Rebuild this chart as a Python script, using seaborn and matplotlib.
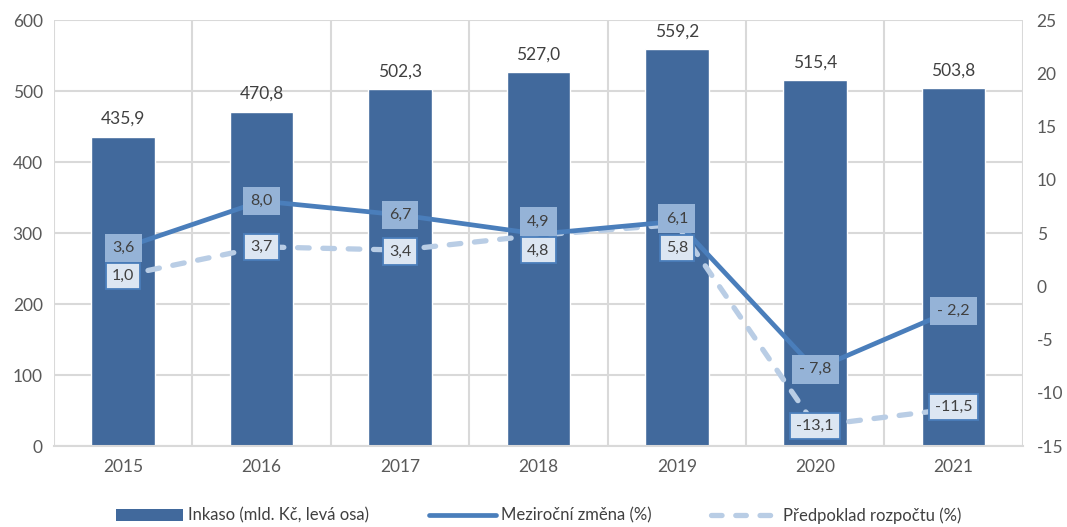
import numpy as np
import pandas as pd
import matplotlib
matplotlib.use("Agg")
import matplotlib.pyplot as plt
import seaborn as sns
from matplotlib.lines import Line2D
from matplotlib.patches import Patch

YEARS = ['2015', '2016', '2017', '2018', '2019', '2020', '2021']
INKASO = [435.9, 470.8, 502.3, 527.0, 559.2, 515.4, 503.8]
ZMENA = [3.6, 8.0, 6.7, 4.9, 6.1, -7.8, -2.2]
PREDPOKLAD = [1.0, 3.7, 3.4, 4.8, 5.8, -13.1, -11.5]

ZMENA_TXT = ['3,6', '8,0', '6,7', '4,9', '6,1', '- 7,8', '- 2,2']
PREDPOKLAD_TXT = ['1,0', '3,7', '3,4', '4,8', '5,8', '-13,1', '-11,5']

BAR_COLOR = '#41699C'
LINE_COLOR = '#4A7EBB'
DASH_COLOR = '#B9CDE5'
TXT = '#404040'
TICK = '#595959'
GRID = '#D9D9D9'

sns.set_style('white')
plt.rcParams['font.family'] = ['Lato', 'DejaVu Sans']
plt.rcParams['axes.unicode_minus'] = False

fig = plt.figure(figsize=(10.67, 5.27), dpi=100)
ax = fig.add_axes([0.0506, 0.1537, 0.908, 0.8083])

df = pd.DataFrame({'rok': YEARS, 'inkaso': INKASO})
sns.barplot(data=df, x='rok', y='inkaso', color=BAR_COLOR, saturation=1,
            width=0.46, ax=ax, zorder=2)
ax.set_xlim(-0.5, 6.5)
ax.set_ylim(0, 600)
ax.set_yticks(range(0, 601, 100))
ax.set_xlabel('')
ax.set_ylabel('')

# grid: horizontal on values, vertical on category boundaries
ax.set_xticks(np.arange(-0.5, 7, 1), minor=True)
ax.grid(axis='y', which='major', color=GRID, lw=1.5, zorder=0)
ax.grid(axis='x', which='minor', color=GRID, lw=1.5, zorder=0)
ax.set_axisbelow(True)
for s in ['top', 'left', 'right']:
    ax.spines[s].set_visible(False)
ax.spines['bottom'].set_color(GRID)
ax.spines['bottom'].set_linewidth(1.5)
ax.tick_params(axis='both', which='both', length=0, labelsize=12.5, labelcolor=TICK)
ax.tick_params(axis='x', pad=9)
ax.tick_params(axis='y', pad=8)

ax.bar_label(ax.containers[0], labels=[f'{v:.1f}'.replace('.', ',') for v in INKASO],
             padding=7, fontsize=12.5, color=TXT)

ax2 = ax.twinx()
ax2.set_ylim(-15, 25)
ax2.set_yticks(range(-15, 26, 5))
for s in ax2.spines.values():
    s.set_visible(False)
ax2.tick_params(axis='y', length=0, labelsize=12.5, labelcolor=TICK, pad=10)

xs = np.arange(len(YEARS))
dash_line, = ax2.plot(xs, PREDPOKLAD, color=DASH_COLOR, lw=3.8,
                      dash_capstyle='round', zorder=3)
dash_line.set_dashes((2.2, 2.6))
ax2.plot(xs, ZMENA, color=LINE_COLOR, lw=3.4, solid_capstyle='butt', zorder=4)

# data labels, with offsets (points) where boxes would collide
zmena_off = [0, 0, 0, 9, 2, 0, -1]
pred_off = [0, 0, -1, -11, -17, 0, 1]
for i in range(len(YEARS)):
    ax2.annotate(PREDPOKLAD_TXT[i], (xs[i], PREDPOKLAD[i]), xytext=(0, pred_off[i]),
                 textcoords='offset points', ha='center', va='center',
                 fontsize=11.5, color=TXT, zorder=6,
                 bbox=dict(boxstyle='square,pad=0.38', fc='#DCE6F2',
                           ec=LINE_COLOR, lw=1.3))
    ax2.annotate(ZMENA_TXT[i], (xs[i], ZMENA[i]), xytext=(0, zmena_off[i]),
                 textcoords='offset points', ha='center', va='center',
                 fontsize=11.5, color=TXT, zorder=7,
                 bbox=dict(boxstyle='square,pad=0.45', fc='#95B3D7', ec='none'))

handles = [
    Patch(facecolor=BAR_COLOR, edgecolor='none'),
    Line2D([0], [0], color=LINE_COLOR, lw=3.4),
    Line2D([0], [0], color=DASH_COLOR, lw=3.8, dashes=(2.0, 2.6), dash_capstyle='round'),
]
labels = ['Inkaso (mld. Kč, levá osa)', 'Meziroční změna (%)', 'Předpoklad rozpočtu (%)']
fig.legend(handles, labels, loc='center', bbox_to_anchor=(0.505, 0.022), ncol=3,
           frameon=False, fontsize=12, labelcolor=TXT, handlelength=4.0,
           handleheight=0.75, handletextpad=0.3, columnspacing=3.6)

fig.savefig('out.png', dpi=100)
